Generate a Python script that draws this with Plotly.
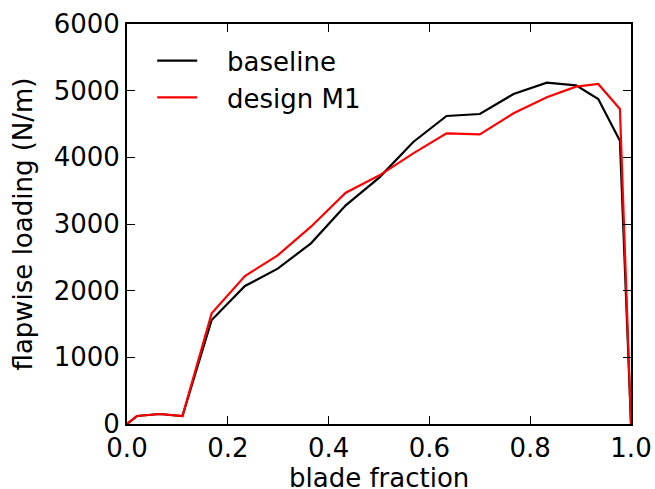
import plotly.graph_objects as go

blade_fraction = [0.0, 0.02, 0.065, 0.11, 0.168, 0.234, 0.299, 0.365, 0.434, 0.501, 0.568, 0.634, 0.700, 0.767, 0.833, 0.891, 0.935, 0.978, 1.0]
baseline = [0, 120, 150, 120, 1560, 2070, 2330, 2710, 3280, 3700, 4230, 4620, 4650, 4950, 5120, 5080, 4875, 4250, 0]
design_m1 = [0, 120, 150, 120, 1660, 2220, 2530, 2960, 3470, 3730, 4060, 4360, 4345, 4660, 4900, 5060, 5100, 4725, 0]

x_ticks = [0.0, 0.2, 0.4, 0.6, 0.8, 1.0]
y_ticks = [0, 1000, 2000, 3000, 4000, 5000, 6000]

font = "DejaVu Sans"
pad = "\u00a0\u00a0\u00a0"
fig = go.Figure()
fig.add_trace(go.Scatter(x=blade_fraction, y=baseline, mode="lines", name=pad + "baseline",
                         line=dict(color="black", width=2.2), legendgroup="a"))
fig.add_trace(go.Scatter(x=blade_fraction, y=design_m1, mode="lines", name=pad + "design M1",
                         line=dict(color="#ff0000", width=2.2), legendgroup="b"))

axis_common = dict(showline=True, linecolor="black", linewidth=2, mirror="allticks",
                   ticks="inside", ticklen=8, tickwidth=1.3, tickcolor="black",
                   showgrid=False, zeroline=False, automargin=False,
                   tickfont=dict(family=font, size=26, color="black"))
fig.update_xaxes(range=[0, 1], tickvals=x_ticks, ticktext=[f"{v:.1f}" for v in x_ticks],
                 **axis_common)
fig.update_yaxes(range=[0, 6000], tickvals=y_ticks, ticktext=[str(v) for v in y_ticks],
                 title=dict(text="flapwise loading (N/m)", font=dict(family=font, size=26, color="black"), standoff=14),
                 **axis_common)
fig.add_annotation(text="blade fraction", xref="paper", yref="paper", x=0.5, y=-0.135,
                   xanchor="center", yanchor="middle", showarrow=False,
                   font=dict(family=font, size=26, color="black"))
fig.update_layout(
    width=655, height=489,
    margin=dict(l=127, r=24, t=24, b=65),
    paper_bgcolor="white", plot_bgcolor="white",
    font=dict(family=font, size=26, color="black"),
    legend=dict(x=0.05, y=0.967, xanchor="left", yanchor="top", bgcolor="rgba(0,0,0,0)",
                font=dict(family=font, size=26), tracegroupgap=0, itemwidth=40),
)
fig.write_html("out.html")
